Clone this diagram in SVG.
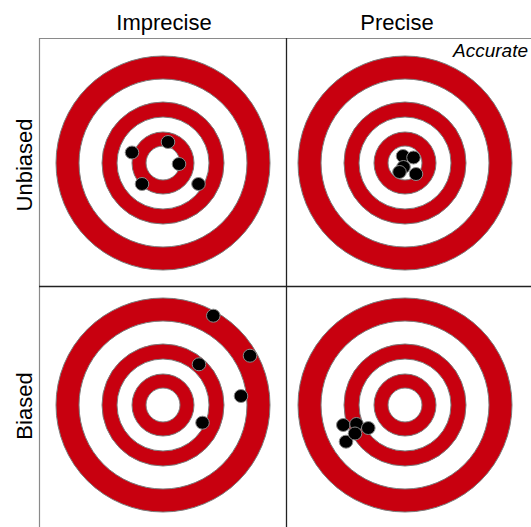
<svg xmlns="http://www.w3.org/2000/svg" xmlns:xlink="http://www.w3.org/1999/xlink" width="531" height="527" viewBox="0 0 531 527">
  <style>
    .label { font-family: "Liberation Sans", Arial, sans-serif; font-size: 22px; fill: #000; text-anchor: middle; }
    .note { font-family: "Liberation Sans", Arial, sans-serif; font-size: 19px; font-style: italic; fill: #000; text-anchor: end; }
    .red { fill: #c8000f; stroke: #7a7a7a; stroke-width: 1; }
    .white { fill: #fff; stroke: #7a7a7a; stroke-width: 1; }
    .hit { fill: #000; stroke: #8a8a8a; stroke-width: 1; }
    .frame { stroke: #8a8a8a; stroke-width: 1.2; fill: none; }
    .divider { stroke: #222; stroke-width: 1.3; fill: none; }
  </style>
  <defs>
    <!-- concentric target, centred on the origin -->
    <g id="target">
      <circle class="red" r="107"/>
      <circle class="white" r="84"/>
      <circle class="red" r="61"/>
      <circle class="white" r="46"/>
      <circle class="red" r="31"/>
      <circle class="white" r="17"/>
    </g>
    <ellipse id="hit" class="hit" rx="6.8" ry="6.5"/>
  </defs>

  <rect width="531" height="527" fill="#fff"/>

  <!-- column and row headings -->
  <g id="headings">
    <text class="label" x="164" y="30">Imprecise</text>
    <text class="label" x="397" y="30">Precise</text>
    <text class="label" transform="translate(32,165) rotate(-90)">Unbiased</text>
    <text class="label" transform="translate(32,406) rotate(-90)">Biased</text>
  </g>

  <!-- grid lines -->
  <g id="connectors">
    <line class="frame" x1="39" y1="38.5" x2="531" y2="38.5"/>
    <line class="frame" x1="39.5" y1="38" x2="39.5" y2="527"/>
    <line class="divider" x1="286.5" y1="38" x2="286.5" y2="527"/>
    <line class="divider" x1="39" y1="286.5" x2="531" y2="286.5"/>
  </g>

  <!-- unbiased, imprecise -->
  <g id="unbiased-imprecise">
    <use xlink:href="#target" x="163" y="163"/>
    <use xlink:href="#hit" x="168" y="142"/>
    <use xlink:href="#hit" x="132" y="152.5"/>
    <use xlink:href="#hit" x="179" y="164"/>
    <use xlink:href="#hit" x="142" y="184"/>
    <use xlink:href="#hit" x="198.5" y="184"/>
  </g>

  <!-- unbiased, precise -->
  <g id="unbiased-precise">
    <use xlink:href="#target" x="405" y="163"/>
    <use xlink:href="#hit" x="403" y="156"/>
    <use xlink:href="#hit" x="413.5" y="157.5"/>
    <use xlink:href="#hit" x="403.5" y="167"/>
    <use xlink:href="#hit" x="399.5" y="172"/>
    <use xlink:href="#hit" x="416" y="174"/>
    <text class="note" x="528" y="57">Accurate</text>
  </g>

  <!-- biased, imprecise -->
  <g id="biased-imprecise">
    <use xlink:href="#target" x="163" y="405"/>
    <use xlink:href="#hit" x="213.3" y="315.7"/>
    <use xlink:href="#hit" x="250" y="355.7"/>
    <use xlink:href="#hit" x="199" y="364.3"/>
    <use xlink:href="#hit" x="241" y="396"/>
    <use xlink:href="#hit" x="202.5" y="422.7"/>
  </g>

  <!-- biased, precise -->
  <g id="biased-precise">
    <use xlink:href="#target" x="405" y="405"/>
    <use xlink:href="#hit" x="343.3" y="425"/>
    <use xlink:href="#hit" x="356.5" y="424"/>
    <use xlink:href="#hit" x="368.3" y="428"/>
    <use xlink:href="#hit" x="346" y="441.7"/>
    <use xlink:href="#hit" x="355" y="433.5"/>
  </g>
</svg>
